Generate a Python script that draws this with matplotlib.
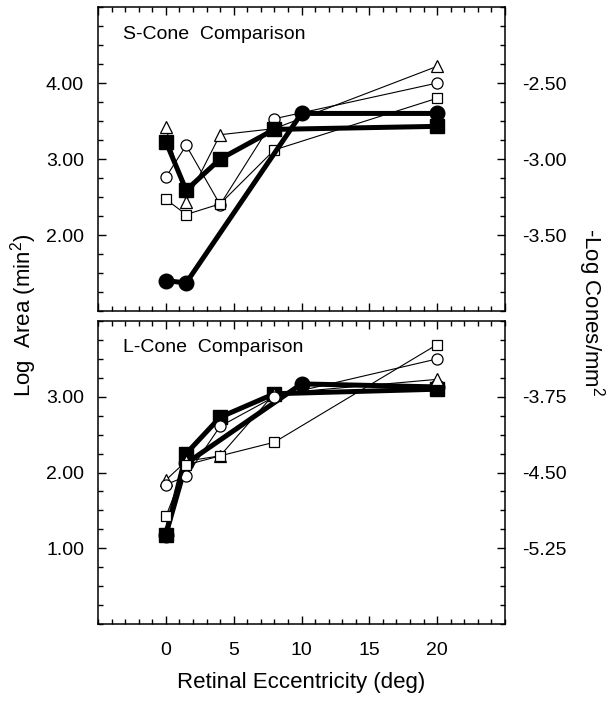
import matplotlib
matplotlib.use("Agg")
import matplotlib.pyplot as plt
from matplotlib.ticker import MultipleLocator, FixedLocator, FormatStrFormatter

plt.rcParams['font.family'] = ['Liberation Sans', 'DejaVu Sans']
plt.rcParams['mathtext.fontset'] = 'custom'
plt.rcParams['mathtext.rm'] = 'Liberation Sans'
plt.rcParams['mathtext.it'] = 'Liberation Sans:italic'
plt.rcParams['mathtext.bf'] = 'Liberation Sans:bold'

# eccentricities (deg)
ecc = [0, 1.5, 4, 8, 20]
ecc_circ = [0, 1.5, 10, 20]

# S-cone comparison panel
s_fill_circ = [1.40, 1.37, 3.60, 3.60]
s_fill_sq = [3.23, 2.59, 3.00, 3.39, 3.43]
s_open_tri = [3.42, 2.44, 3.32, 3.40, 4.22]
s_open_circ = [2.76, 3.18, 2.40, 3.53, 4.00]
s_open_sq = [2.47, 2.27, 2.41, 3.12, 3.80]

# L-cone comparison panel
l_fill_circ = [1.18, 2.12, 3.17, 3.13]
l_fill_sq = [1.18, 2.25, 2.73, 3.04, 3.10]
l_open_tri = [1.90, 2.15, 2.22, 3.04, 3.23]
l_open_circ = [1.84, 1.95, 2.61, 3.00, 3.50]
l_open_sq = [1.42, 2.10, 2.22, 2.40, 3.69]

fig = plt.figure(figsize=(6.14, 7.04), dpi=100)
ax1 = fig.add_axes([0.1596, 0.5582, 0.6629, 0.4318])
ax2 = fig.add_axes([0.1596, 0.1136, 0.6629, 0.4304])

thick = dict(color='black', lw=3.6)
thin = dict(color='black', lw=0.8, mfc='white', mec='black', mew=0.9)


def draw_open(ax, tri, circ, sq, z):
    ax.plot(ecc, tri, marker='^', ms=8, zorder=z, **thin)
    ax.plot(ecc, circ, marker='o', ms=8, zorder=z, **thin)
    ax.plot(ecc, sq, marker='s', ms=7.5, zorder=z, **thin)


def draw_filled(ax, circ, sq, z):
    ax.plot(ecc_circ, circ, marker='o', ms=10.5, zorder=z, **thick)
    ax.plot(ecc, sq, marker='s', ms=10, zorder=z, **thick)


draw_open(ax1, s_open_tri, s_open_circ, s_open_sq, 2)
draw_filled(ax1, s_fill_circ, s_fill_sq, 3)
draw_filled(ax2, l_fill_circ, l_fill_sq, 2)
draw_open(ax2, l_open_tri, l_open_circ, l_open_sq, 3)

ax1.set_ylim(1.0, 5.0)
ax2.set_ylim(0.0, 4.0)
ax1.yaxis.set_major_locator(FixedLocator([2, 3, 4]))
ax2.yaxis.set_major_locator(FixedLocator([1, 2, 3]))

for ax in (ax1, ax2):
    ax.set_xlim(-5, 25)
    ax.xaxis.set_major_locator(MultipleLocator(5))
    ax.xaxis.set_minor_locator(MultipleLocator(1))
    ax.yaxis.set_minor_locator(MultipleLocator(0.25))
    ax.yaxis.set_major_formatter(FormatStrFormatter('%.2f'))
    ax.tick_params(which='both', direction='in', top=True, right=True,
                   width=1.0, labelsize=14, pad=10)
    ax.tick_params(which='major', length=6)
    ax.tick_params(which='minor', length=3.5)
    for sp in ax.spines.values():
        sp.set_linewidth(1.1)

ax1.tick_params(axis='x', labelbottom=False)
ax2.set_xticks([0, 5, 10, 15, 20])
ax2.tick_params(axis='x', pad=13)

# right-hand cone density scale
sec1 = ax1.secondary_yaxis('right', functions=(lambda y: -3 + (y - 3) * 0.5,
                                               lambda r: 3 + (r + 3) * 2))
sec1.set_yticks([-2.5, -3.0, -3.5])
sec2 = ax2.secondary_yaxis('right', functions=(lambda y: -3.75 + (y - 3) * 0.75,
                                               lambda r: 3 + (r + 3.75) / 0.75))
sec2.set_yticks([-3.75, -4.5, -5.25])
for sec in (sec1, sec2):
    sec.yaxis.set_major_formatter(FormatStrFormatter('%.2f'))
    sec.tick_params(length=0, labelsize=14, pad=12)
    sec.spines['right'].set_visible(False)

ax1.text(0.062, 0.911, 'S-Cone  Comparison', transform=ax1.transAxes,
         fontsize=14, va='center', ha='left')
ax2.text(0.062, 0.911, 'L-Cone  Comparison', transform=ax2.transAxes,
         fontsize=14, va='center', ha='left')

ax2.set_xlabel('Retinal Eccentricity (deg)', fontsize=16, labelpad=9)
fig.text(24 / 614, 1 - 315 / 704, 'Log  Area (min$^2$)', rotation=90,
         fontsize=16, ha='center', va='center')
fig.text(591 / 614, 1 - 312 / 704, '-Log Cones/mm$^2$', rotation=270,
         fontsize=16, ha='center', va='center')

fig.savefig('out.png', dpi=100)
